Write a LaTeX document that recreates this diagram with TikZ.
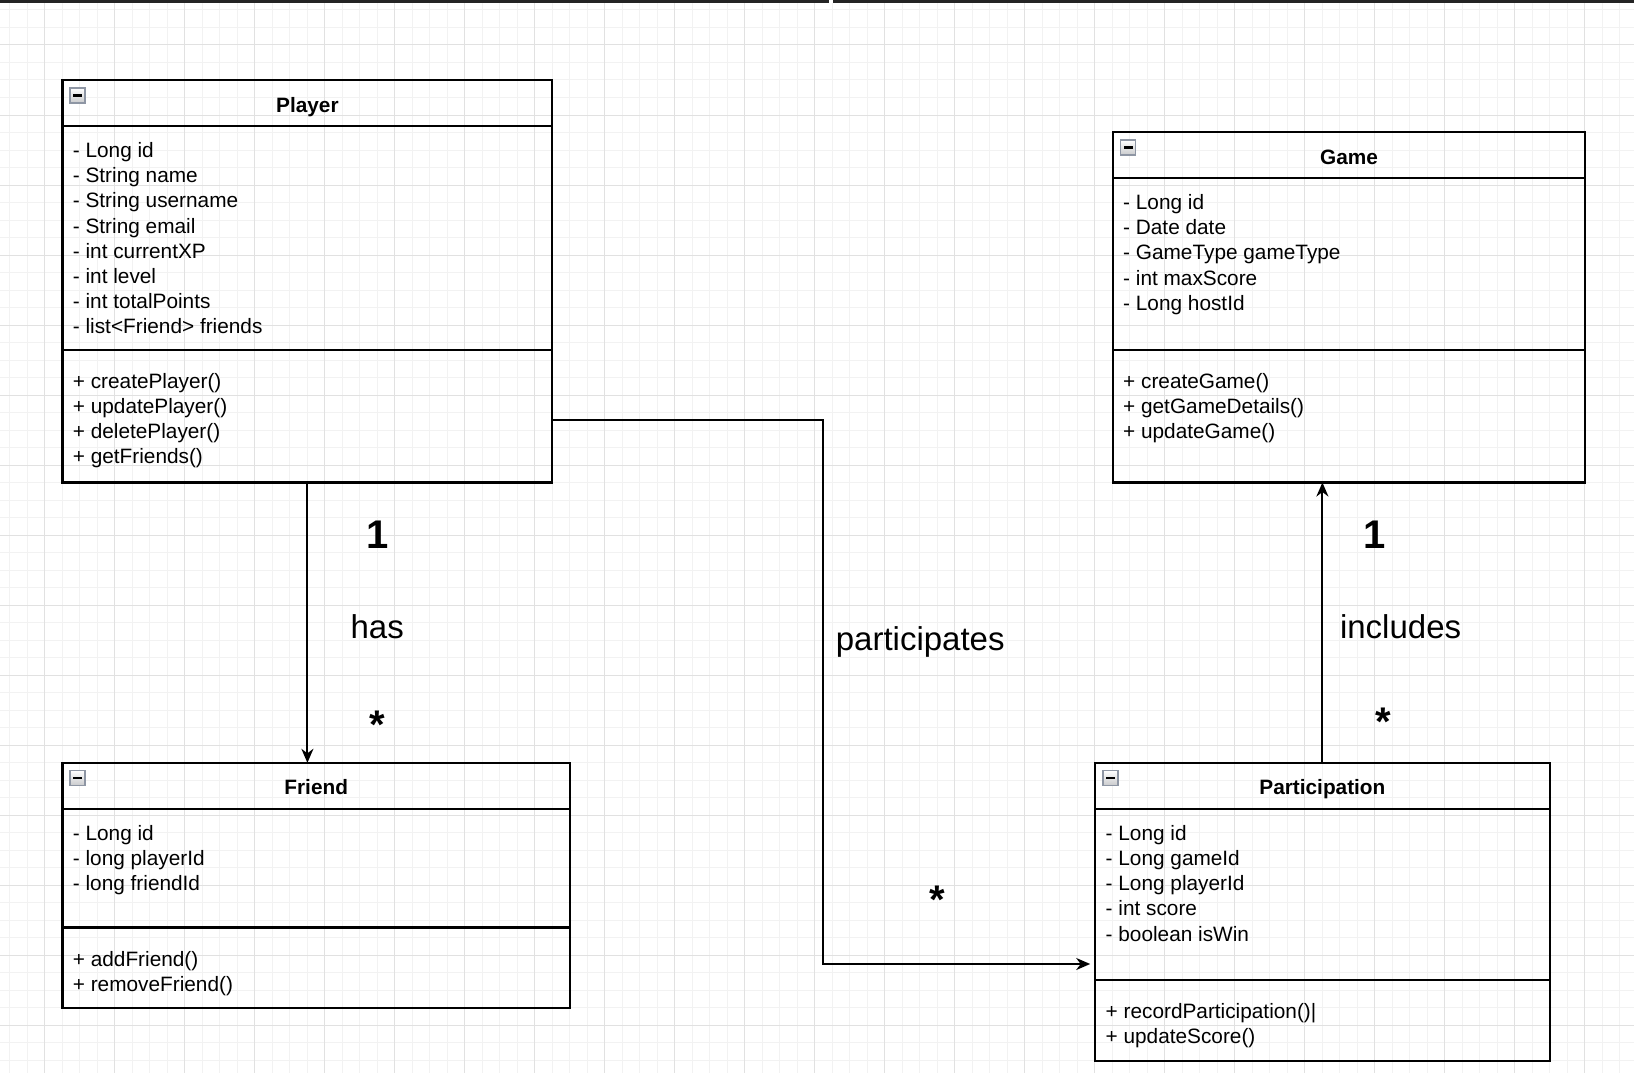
\documentclass[tikz,border=0pt]{standalone}
\usepackage{fontspec}
\setmainfont{Liberation Sans}
\usetikzlibrary{arrows.meta}
\definecolor{gridminor}{HTML}{F2F2F2}
\definecolor{gridmajor}{HTML}{E1E1E1}
\definecolor{iconborder}{HTML}{8E96A4}
\definecolor{iconfill}{HTML}{C9CACC}
\definecolor{topbar}{HTML}{242424}
\newcommand\mnsicon[2]{%
  \path[draw=iconborder, line width=1.2pt, top color=white, bottom color=iconfill] (#1,#2) rectangle ++(15,15);
  \fill[black] (#1+3,#2+6.3) rectangle ++(9,2.5);
}
\tikzset{
  umlbox/.style={draw=black, line width=2.1pt, rectangle, inner sep=0pt, outer sep=0pt, anchor=north west},
  sepline/.style={draw=black, line width=2.1pt},
  attr/.style={anchor=base west, inner sep=0pt, font=\fontsize{20.8}{25}\selectfont},
  umltitle/.style={anchor=base, inner sep=0pt, font=\fontsize{20.8}{25}\selectfont\bfseries},
  lbl/.style={anchor=base, inner sep=0pt, font=\fontsize{33}{40}\selectfont},
  mult/.style={anchor=base, inner sep=0pt, font=\fontsize{40}{48}\selectfont\bfseries},
  conn/.style={draw=black, line width=2.1pt, -{Stealth[length=14pt,width=12pt,inset=4.5pt]}}
}
\begin{document}
\begin{tikzpicture}[x=1pt,y=-1pt]
\useasboundingbox (0,0) rectangle (1634,1073);
\fill[white] (0,0) rectangle (1634,1073);
% grid
\foreach \i in {0,...,93} \draw[gridminor, line width=1pt] (9.5+17.5*\i,0) -- (9.5+17.5*\i,1073);
\foreach \i in {0,...,61} \draw[gridminor, line width=1pt] (0,10+17.5*\i) -- (1634,10+17.5*\i);
\foreach \i in {0,...,23} \draw[gridmajor, line width=1pt] (44.5+70*\i,0) -- (44.5+70*\i,1073);
\foreach \i in {0,...,15} \draw[gridmajor, line width=1pt] (0,45+70*\i) -- (1634,45+70*\i);
% top bar
\fill[topbar] (0,0) rectangle (1634,3);
\fill[white] (829,0) rectangle (833,2.6);

% Player
\node[umlbox, minimum width=489.8pt, minimum height=402.3pt] (player) at (62.5,80.2) {};
\draw[sepline] (62.5,126.1) -- (552.3,126.1);
\draw[sepline] (62.5,350.1) -- (552.3,350.1);
\mnsicon{70}{88}
\node[umltitle] (playertitle) at (307.4,112.8) {Player};
\foreach \t [count=\i from 0] in {- Long id, - String name, - String username, - String email, - int currentXP, - int level, - int totalPoints, - list<Friend> friends}
  \node[attr] (pa\i) at (72.7,157.5+25.2*\i) {\t};
\foreach \t [count=\i from 0] in {+ createPlayer(), + updatePlayer(), + deletePlayer(), + getFriends()}
  \node[attr] (pm\i) at (72.7,388+25.2*\i) {\t};

% Game
\node[umlbox, minimum width=472pt, minimum height=350.2pt] (game) at (1113,132.3) {};
\draw[sepline] (1113,178.2) -- (1585,178.2);
\draw[sepline] (1113,350.1) -- (1585,350.1);
\mnsicon{1120.5}{140}
\node[umltitle] (gametitle) at (1349,164.8) {Game};
\foreach \t [count=\i from 0] in {- Long id, - Date date, - GameType gameType, - int maxScore, - Long hostId}
  \node[attr] (ga\i) at (1123,209.5+25.2*\i) {\t};
\foreach \t [count=\i from 0] in {+ createGame(), + getGameDetails(), + updateGame()}
  \node[attr] (gm\i) at (1123,388+25.2*\i) {\t};

% Friend
\node[umlbox, minimum width=507.5pt, minimum height=244.9pt] (friend) at (62.5,762.8) {};
\draw[sepline] (62.5,808.7) -- (570,808.7);
\draw[sepline] (62.5,927.5) -- (570,927.5);
\mnsicon{70}{770.5}
\node[umltitle] (friendtitle) at (316.2,794.5) {Friend};
\foreach \t [count=\i from 0] in {- Long id, - long playerId, - long friendId}
  \node[attr] (fa\i) at (72.7,840.3+25.2*\i) {\t};
\foreach \t [count=\i from 0] in {+ addFriend(), + removeFriend()}
  \node[attr] (fm\i) at (72.7,966+25.2*\i) {\t};

% Participation
\node[umlbox, minimum width=454.4pt, minimum height=298.1pt] (part) at (1095.2,762.8) {};
\draw[sepline] (1095.2,808.7) -- (1549.6,808.7);
\draw[sepline] (1095.2,979.6) -- (1549.6,979.6);
\mnsicon{1103}{770.5}
\node[umltitle] (parttitle) at (1322.4,794.5) {Participation};
\foreach \t [count=\i from 0] in {- Long id, - Long gameId, - Long playerId, - int score, - boolean isWin}
  \node[attr] (qa\i) at (1105.5,840.3+25.2*\i) {\t};
\foreach \t [count=\i from 0] in {+ recordParticipation()|, + updateScore()}
  \node[attr] (qm\i) at (1105.5,1018+25.2*\i) {\t};

% connectors
\draw[conn] (player.south) -- (player.south |- friend.north);
\coordinate (turn1) at (823.3,420);
\coordinate (turn2) at (823.3,964);
\draw[conn] (player.east |- turn1) -- (turn1) -- (turn2) -- ([xshift=-5pt]part.west |- turn2);
\draw[conn] (part.north) -- (part.north |- game.south);

% labels
\node[mult] (m1) at (377.2,548) {1};
\node[lbl] (has) at (377.2,638.5) {has};
\node[mult] (m2) at (377.2,738) {*};
\node[lbl] (partic) at (920.2,650) {participates};
\node[mult] (m3) at (936.9,913) {*};
\node[mult] (m4) at (1374.5,548) {1};
\node[lbl] (incl) at (1400.6,638.5) {includes};
\node[mult] (m5) at (1383,735) {*};
\end{tikzpicture}
\end{document}
